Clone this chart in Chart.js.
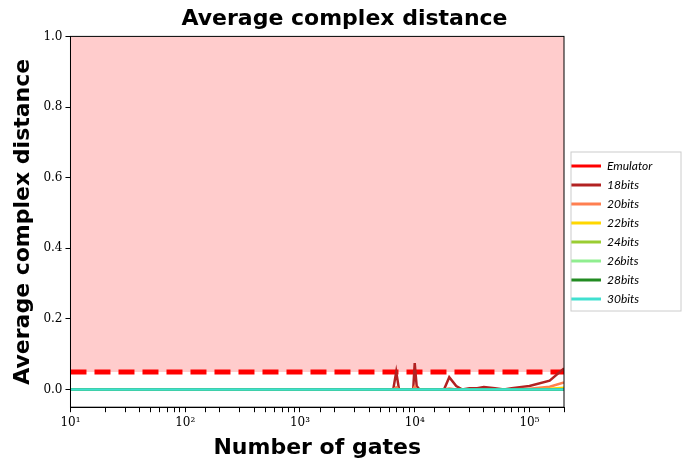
<!DOCTYPE html>
<html>
<head>
<meta charset="utf-8">
<script src="https://cdn.jsdelivr.net/npm/chart.js@4/dist/chart.umd.min.js"></script>
<style>
  body { margin: 0; background: #fff; }
  #wrap { width: 683px; height: 469px; }
</style>
</head>
<body>
<div id="wrap"><canvas id="chartDistance"></canvas></div>
<script>
// number of gates (x) and average distance per precision
const gates = [10, 100, 1000, 5000, 6000, 6500, 6900, 7300, 9000, 9700, 10000, 10400, 11000, 15000, 18000, 20000, 23000, 26000, 30000, 35000, 40000, 50000, 60000, 70000, 100000, 150000, 200000];
const emulator = gates.map(() => 0.05);
const bits18 = [0, 0, 0, 0, 0, 0, 0.05, 0, 0, 0, 0.075, 0.01, 0, 0, 0, 0.035, 0.01, 0, 0.004, 0.004, 0.007, 0.004, 0, 0.004, 0.01, 0.025, 0.06];
const bits20 = [0, 0, 0, 0, 0, 0, 0.006, 0, 0, 0, 0.008, 0, 0, 0, 0, 0.003, 0, 0, 0, 0, 0, 0, 0, 0, 0.002, 0.008, 0.02];
const bits22 = [0, 0, 0, 0, 0, 0, 0, 0, 0, 0, 0, 0, 0, 0, 0, 0, 0, 0, 0, 0, 0, 0, 0, 0, 0, 0.002, 0.005];
const zeros = gates.map(() => 0);
const seriesNames = ['Emulator', '18bits', '20bits', '22bits', '24bits', '26bits', '28bits', '30bits'];
const seriesColors = ['#ff0000', '#b22222', '#ff7f50', '#ffd700', '#9acd32', '#90ee90', '#228b22', '#40e0d0'];
const seriesValues = [emulator, bits18, bits20, bits22, zeros, zeros, zeros, zeros];
const yTicks = [0, 0.2, 0.4, 0.6, 0.8, 1.0];
const supers = { 1: '¹', 2: '²', 3: '³', 4: '⁴', 5: '⁵' };

const frameAndLegendBox = {
    id: 'frameAndLegendBox',
    afterInit(chart) {
        // fixed legend column width, like the reference
        const legend = chart.legend;
        const fit = legend.fit;
        legend.fit = function () {
            fit.call(this);
            this.width = 119;
        };
    },
    afterDraw(chart) {
        const { ctx, chartArea: a, legend } = chart;
        ctx.save();
        ctx.strokeStyle = '#000';
        ctx.lineWidth = 1;
        ctx.strokeRect(a.left, a.top, a.right - a.left, a.bottom - a.top);
        const boxes = legend.legendHitBoxes;
        if (boxes && boxes.length) {
            const top = boxes[0].top - 8;
            const bottom = boxes[boxes.length - 1].top + boxes[boxes.length - 1].height + 6;
            ctx.strokeStyle = '#ccc';
            ctx.strokeRect(legend.left + 7, top, 110, bottom - top);
        }
        ctx.restore();
    }
};

const buildChart = () => {
    const datasets = seriesNames.map((name, i) => ({
        label: name,
        data: seriesValues[i].map((v, j) => ({ x: gates[j], y: v })),
        borderColor: seriesColors[i],
        backgroundColor: i === 0 ? 'rgba(255, 0, 0, 0.2)' : seriesColors[i],
        borderWidth: i === 0 ? 5 : 2.5,
        borderDash: i === 0 ? [16, 8] : [],
        fill: i === 0 ? 'end' : false,
        pointRadius: 0,
        tension: 0,
        order: i === 0 ? 10 : 8 - i
    }));

    new Chart(document.getElementById('chartDistance'), {
        type: 'line',
        data: { datasets },
        plugins: [frameAndLegendBox],
        options: {
            responsive: true,
            maintainAspectRatio: false,
            animation: false,
            layout: { padding: { top: 0, right: 0, bottom: 4, left: 6 } },
            scales: {
                x: {
                    type: 'logarithmic',
                    min: 10,
                    max: 200000,
                    grid: { drawOnChartArea: false, tickLength: 5, color: '#000' },
                    border: { color: '#000' },
                    ticks: {
                        autoSkip: false,
                        maxRotation: 0,
                        color: '#000',
                        font: { family: 'DejaVu Serif', size: 12 },
                        callback: (v) => {
                            const e = Math.log10(v);
                            return Math.abs(e - Math.round(e)) < 1e-9 ? '10' + supers[Math.round(e)] : '';
                        }
                    },
                    title: {
                        display: true,
                        text: 'Number of gates',
                        color: '#000',
                        font: { family: 'DejaVu Sans', size: 22, weight: 'bold' },
                        padding: { top: 2 }
                    }
                },
                y: {
                    min: -0.05,
                    max: 1.0,
                    afterBuildTicks: (axis) => { axis.ticks = yTicks.map((v) => ({ value: v })); },
                    grid: { drawOnChartArea: false, tickLength: 5, color: '#000' },
                    border: { color: '#000' },
                    ticks: {
                        color: '#000',
                        font: { family: 'DejaVu Serif', size: 12 },
                        callback: (v) => Number(v).toFixed(1)
                    },
                    title: {
                        display: true,
                        text: 'Average complex distance',
                        color: '#000',
                        font: { family: 'DejaVu Sans', size: 22, weight: 'bold' },
                        padding: { bottom: 4 }
                    }
                }
            },
            plugins: {
                title: {
                    display: true,
                    text: 'Average complex distance',
                    color: '#000',
                    font: { family: 'DejaVu Sans', size: 22, weight: 'bold' },
                    padding: { top: 6, bottom: 4 }
                },
                legend: {
                    position: 'right',
                    labels: {
                        boxWidth: 30,
                        boxHeight: 3,
                        padding: 7,
                        color: '#000',
                        font: { family: 'Lato', size: 12, style: 'italic' },
                        generateLabels: (chart) => chart.data.datasets.map((ds, i) => ({
                            text: ds.label,
                            fillStyle: ds.borderColor,
                            strokeStyle: ds.borderColor,
                            lineWidth: 0,
                            datasetIndex: i,
                            fontColor: '#000'
                        }))
                    }
                },
                tooltip: { enabled: false }
            }
        }
    });
};

document.addEventListener('DOMContentLoaded', buildChart);
</script>
</body>
</html>
